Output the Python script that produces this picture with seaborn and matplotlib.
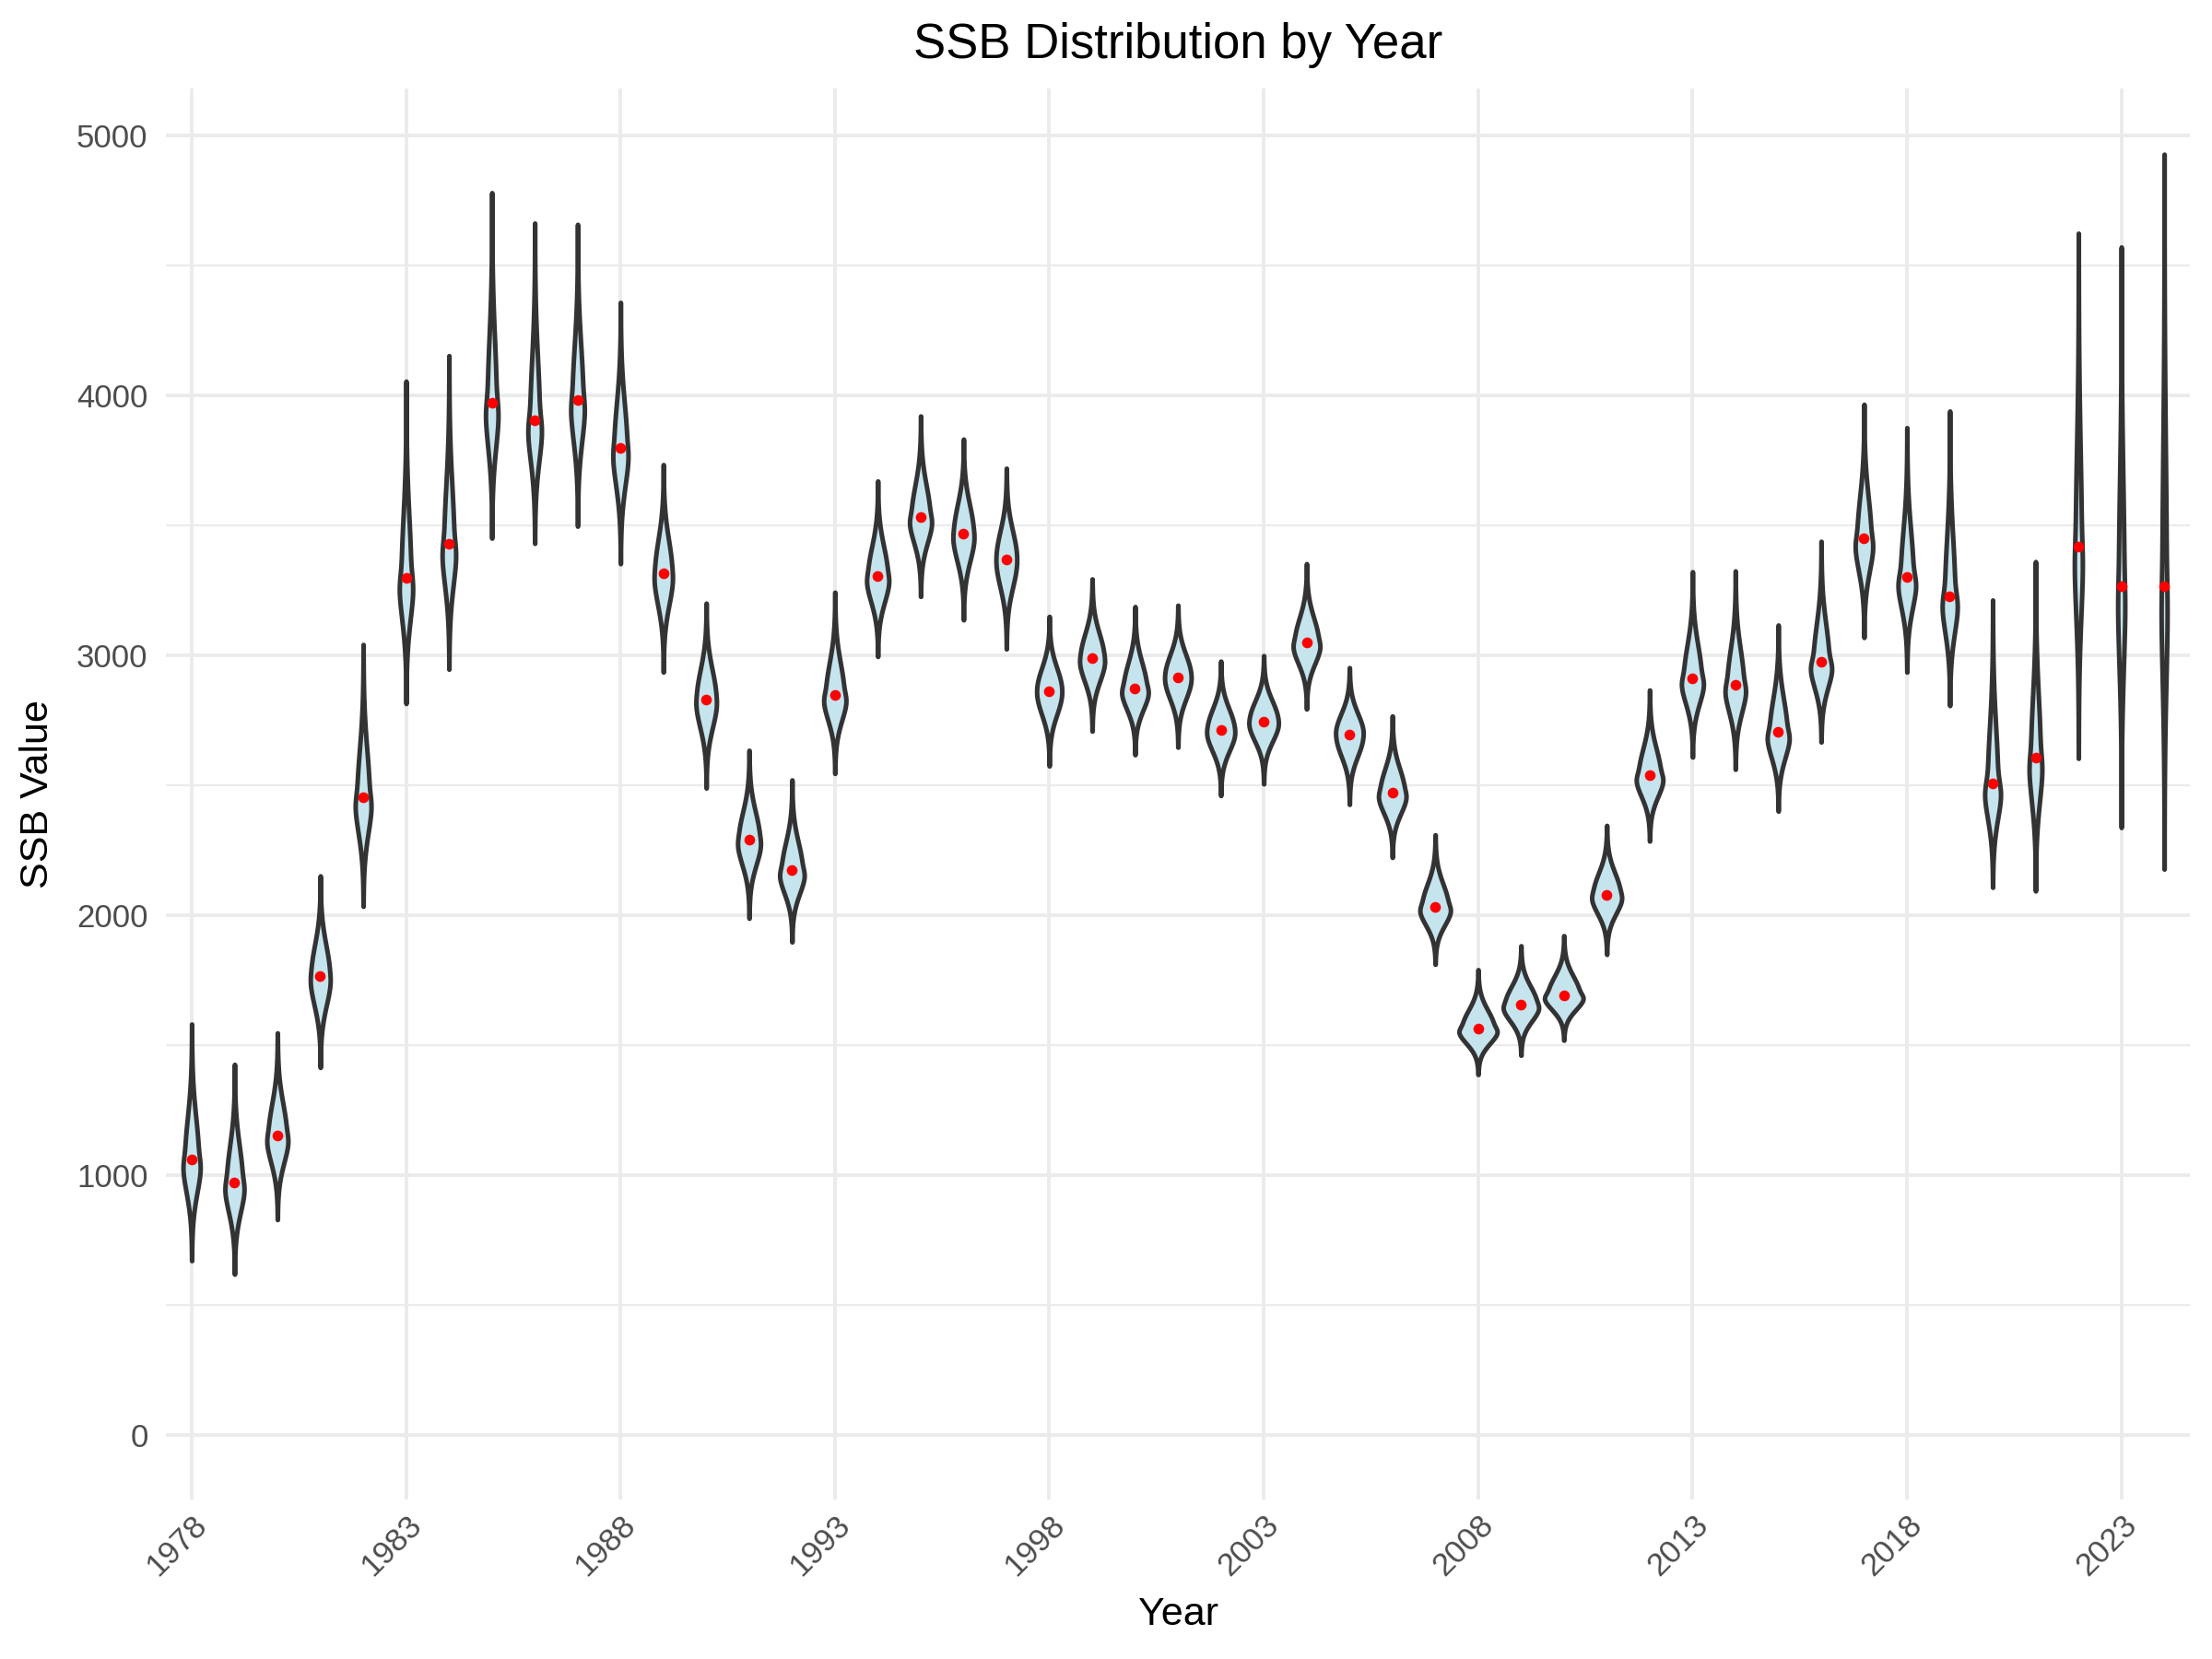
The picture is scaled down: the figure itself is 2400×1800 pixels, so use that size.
import numpy as np
import pandas as pd
import matplotlib
matplotlib.use("Agg")
import matplotlib.pyplot as plt
import seaborn as sns
from statistics import NormalDist
from matplotlib.ticker import MultipleLocator

# ---- data (per year: median, lower extreme, upper extreme) ----
years = list(range(1978, 2025))
ssb_median = [1060, 972, 1153, 1766, 2454, 3300, 3428, 3971, 3906, 3983,
              3798, 3315, 2831, 2291, 2173, 2848, 3305, 3533, 3468, 3370,
              2862, 2989, 2874, 2917, 2712, 2746, 3050, 2695, 2472, 2034,
              1565, 1656, 1694, 2080, 2539, 2913, 2887, 2705, 2976, 3449,
              3303, 3229, 2506, 2607, 3420, 3266, 3266]
ssb_low = [672, 620, 830, 1415, 2035, 2815, 2947, 3451, 3431, 3497,
           3353, 2936, 2490, 1989, 1898, 2546, 2996, 3227, 3137, 3025,
           2575, 2709, 2618, 2647, 2461, 2506, 2794, 2427, 2223, 1812,
           1388, 1462, 1520, 1850, 2286, 2609, 2562, 2401, 2667, 3069,
           2936, 2807, 2108, 2094, 2604, 2338, 2178]
ssb_high = [1582, 1427, 1548, 2152, 3042, 4055, 4153, 4780, 4663, 4658,
            4358, 3734, 3201, 2635, 2521, 3243, 3671, 3921, 3832, 3720,
            3150, 3294, 3188, 3193, 2978, 2999, 3353, 2953, 2767, 2310,
            1791, 1883, 1922, 2346, 2867, 3322, 3325, 3117, 3439, 3966,
            3876, 3940, 3213, 3361, 4624, 4571, 4928]
tick_years = [str(y) for y in years[::5]]

# ---- expand the per-year summaries into a deterministic sample (split-normal quantiles) ----
N = 1000
nd = NormalDist()
z = np.array([nd.inv_cdf((i + 0.5) / N) for i in range(N)])
zmax = z.max()
rows = []
for y, m, lo, hi in zip(years, ssb_median, ssb_low, ssb_high):
    vals = np.where(z >= 0, m + z / zmax * (hi - m), m + z / zmax * (m - lo))
    rows.append(pd.DataFrame({"Year": str(y), "SSB": vals}))
df = pd.concat(rows, ignore_index=True)
med_df = pd.DataFrame({"Year": [str(y) for y in years], "SSB": ssb_median})
order = [str(y) for y in years]

# ---- figure ----
sns.set_theme(style="white")
plt.rcParams["font.family"] = ["Liberation Sans", "DejaVu Sans"]

fig = plt.figure(figsize=(12, 9), dpi=200)
ax = fig.add_axes([0.075, 0.0961, 0.915, 0.8506])

sns.violinplot(data=df, x="Year", y="SSB", order=order, ax=ax,
               color="#C5E4EE", saturation=1, linecolor="#333333",
               linewidth=1.8, inner=None, cut=0, width=0.9,
               density_norm="area", bw_adjust=0.85)
sns.stripplot(data=med_df, x="Year", y="SSB", order=order, ax=ax,
              jitter=False, color="red", size=4.2, linewidth=0, zorder=5)

ax.set_xlim(-0.6, len(years) - 1 + 0.6)
ax.set_ylim(-247, 5181)
ax.set_xticks(list(range(0, len(years), 5)))
ax.set_xticklabels(tick_years, rotation=45, ha="right", rotation_mode="anchor")
ax.set_yticks([0, 1000, 2000, 3000, 4000, 5000])
ax.yaxis.set_minor_locator(MultipleLocator(500))

ax.set_axisbelow(True)
ax.grid(which="major", axis="both", color="#EBEBEB", linewidth=1.4)
ax.grid(which="minor", axis="y", color="#EBEBEB", linewidth=0.8)
for s in ax.spines.values():
    s.set_visible(False)
ax.tick_params(axis="both", which="both", length=0, labelsize=12.5,
               labelcolor="#4D4D4D")
ax.tick_params(axis="y", pad=7)
ax.tick_params(axis="x", pad=4)

ax.set_title("SSB Distribution by Year", fontsize=19, color="black", pad=12)
ax.set_xlabel("Year", fontsize=15.5, color="black", labelpad=5.5)
ax.set_ylabel("SSB Value", fontsize=15.5, color="black", labelpad=8)

fig.savefig("out.png", dpi=200, facecolor="white")
